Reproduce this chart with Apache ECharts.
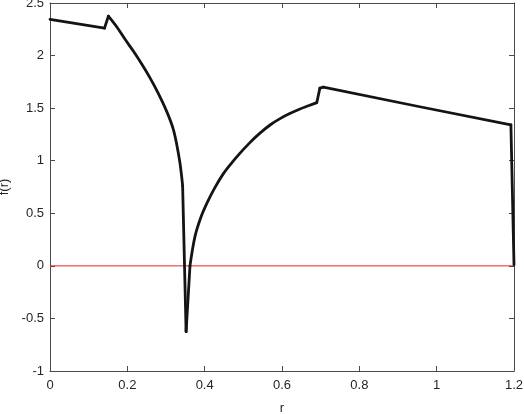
<!DOCTYPE html>
<html>
<head>
<meta charset="utf-8">
<script src="https://cdn.jsdelivr.net/npm/echarts@6/dist/echarts.min.js"></script>
<style>html,body{margin:0;padding:0;background:#fff;}#c{width:524px;height:414px;}</style>
</head>
<body>
<div id="c"></div>
<script>
const rValues = [0, 0.141, 0.151, 0.172, 0.195, 0.215, 0.238, 0.259, 0.28, 0.302, 0.318, 0.328, 0.336, 0.341, 0.343, 0.352,
  0.362, 0.375, 0.39, 0.405, 0.425, 0.448, 0.47, 0.491, 0.515, 0.543, 0.57, 0.595, 0.62, 0.645, 0.67, 0.690,
  0.698, 0.707, 0.95, 1.192, 1.2];
const fValues = [2.345, 2.261, 2.375, 2.276, 2.15, 2.045, 1.915, 1.785, 1.64, 1.467, 1.31, 1.15, 0.98, 0.833, 0.76, -0.626,
  0.0, 0.28, 0.46, 0.59, 0.735, 0.875, 0.98, 1.07, 1.165, 1.262, 1.342, 1.40, 1.448, 1.49, 1.525, 1.553,
  1.690, 1.700, 1.518, 1.340, 0.01];
// indices where the curve has a sharp corner (segments between them are smooth)
const cornerIdx = [0, 1, 2, 14, 15, 16, 31, 32, 33, 35, 36];
const zeroLineR = [0, 1.2];
const zeroLineF = [0, 0];
const xTicks = {min: 0, max: 1.2, interval: 0.2};
const yTicks = {min: -1, max: 2.5, interval: 0.5};
const xLabel = 'r';
const yLabel = 'f(r)';

const textColor = '#262626';
const axisColor = '#4a4a4a';
const font = 'Liberation Sans, Arial, Helvetica, sans-serif';

const chart = echarts.init(document.getElementById('c'), null, {renderer: 'canvas'});
const baseAxis = {
  axisLine: {show: true, onZero: false, lineStyle: {color: axisColor, width: 1}},
  axisTick: {show: true, inside: true, length: 5, lineStyle: {color: axisColor, width: 1}},
  splitLine: {show: false}
};
const segSeries = [];
for (let k = 0; k < cornerIdx.length - 1; k++) {
  const a = cornerIdx[k], b = cornerIdx[k + 1];
  const pts = [];
  for (let i = a; i <= b; i++) pts.push([rValues[i], fValues[i]]);
  segSeries.push({
    type: 'line', xAxisIndex: 0, yAxisIndex: 0, showSymbol: false, symbol: 'none',
    data: pts, smooth: b - a > 2 ? 0.35 : false,
    lineStyle: {color: '#141414', width: 2.8, cap: 'round', join: 'round'}, z: 3
  });
}
chart.setOption({
  animation: false,
  backgroundColor: '#fff',
  grid: {left: 50, right: 10, top: 3, bottom: 43, containLabel: false, outerBoundsMode: 'none'},
  xAxis: [
    Object.assign({}, baseAxis, {
      type: 'value', min: xTicks.min, max: xTicks.max, interval: xTicks.interval, position: 'bottom',
      name: xLabel, nameLocation: 'middle', nameGap: 31,
      nameTextStyle: {color: textColor, fontSize: 13, fontFamily: font},
      axisLabel: {color: textColor, fontSize: 13, fontFamily: font, margin: 8}
    }),
    Object.assign({}, baseAxis, {
      type: 'value', min: xTicks.min, max: xTicks.max, interval: xTicks.interval, position: 'top',
      axisLabel: {show: false}
    })
  ],
  yAxis: [
    Object.assign({}, baseAxis, {
      type: 'value', min: yTicks.min, max: yTicks.max, interval: yTicks.interval, position: 'left',
      name: yLabel, nameLocation: 'middle', nameGap: 31, nameRotate: 90,
      nameTextStyle: {color: textColor, fontSize: 13, fontFamily: font},
      axisLabel: {color: textColor, fontSize: 13, fontFamily: font, margin: 6}
    }),
    Object.assign({}, baseAxis, {
      type: 'value', min: yTicks.min, max: yTicks.max, interval: yTicks.interval, position: 'right',
      axisLabel: {show: false}
    })
  ],
  series: [
    {
      type: 'line', xAxisIndex: 0, yAxisIndex: 0, showSymbol: false, symbol: 'none',
      data: zeroLineR.map((r, i) => [r, zeroLineF[i]]),
      lineStyle: {color: '#e8262a', width: 1}, z: 2
    }
  ].concat(segSeries)
});
</script>
</body>
</html>
